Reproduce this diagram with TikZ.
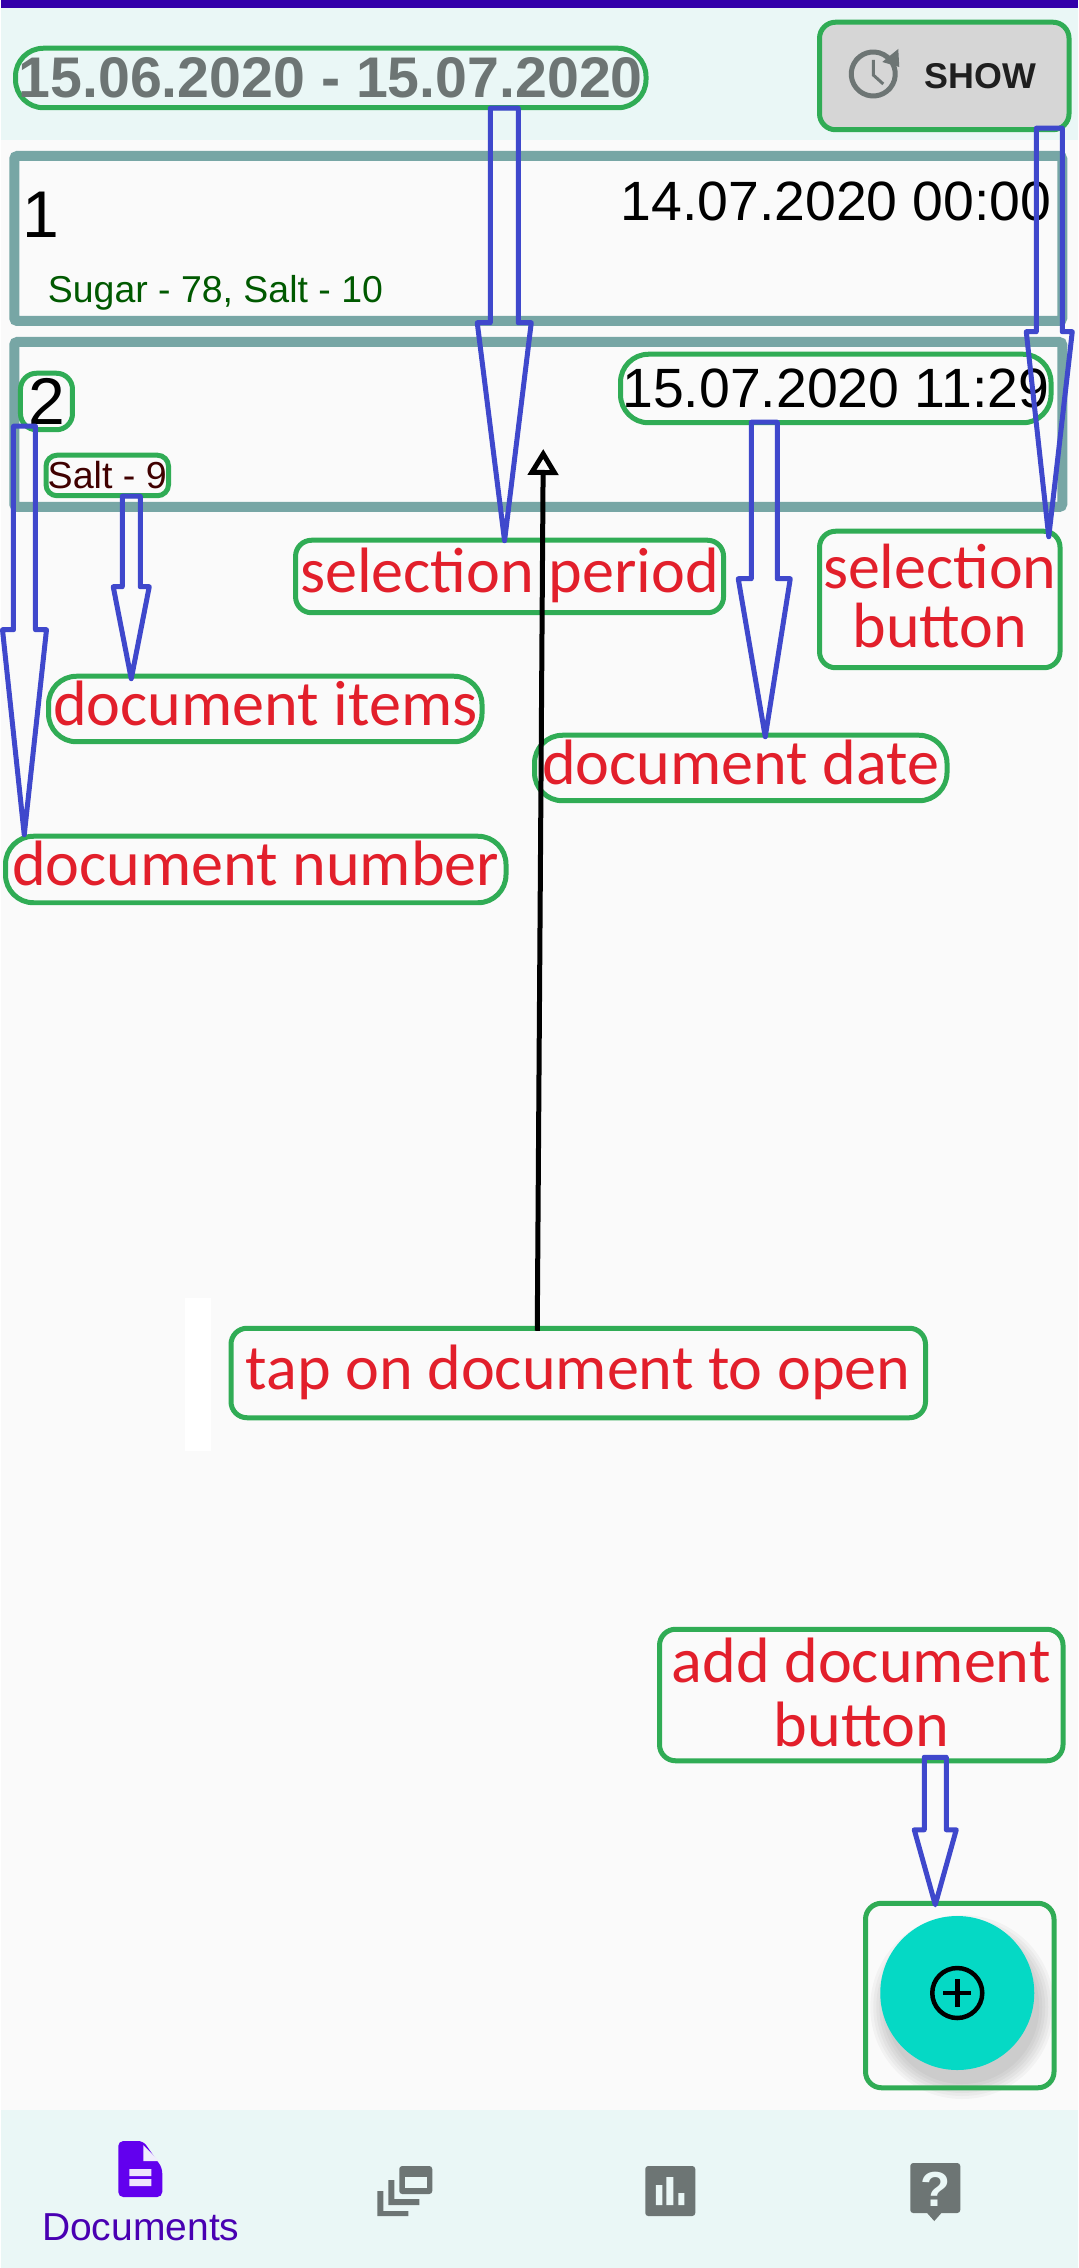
\documentclass[tikz,border=0pt]{standalone}
\usepackage{fontspec}
\setmainfont{Liberation Sans}
\newfontfamily\lblfont{Carlito}
\usepackage{xcolor}
\usetikzlibrary{arrows.meta,positioning,calc}
\definecolor{hdrbg}{HTML}{EAF7F6}
\definecolor{pagebg}{HTML}{FAFAFA}
\definecolor{topbar}{HTML}{3300AA}
\definecolor{cardline}{HTML}{77A6A5}
\definecolor{gboxline}{HTML}{30AC55}
\definecolor{arrline}{HTML}{3F48CC}
\definecolor{lblred}{HTML}{E21F2B}
\definecolor{uigrey}{HTML}{6D7574}
\definecolor{navpurple}{HTML}{6200EE}
\definecolor{fabteal}{HTML}{05D9C5}
% hollow block arrow: from, to, half shaft, half head, head length
\newcommand{\blockarr}[5]{%
  \draw[blockline] ($(#1)+(-#3,0)$) -- ($(#1)+(#3,0)$) -- ($(#1 |- #2)+(#3,-#5)$) -- ($(#1 |- #2)+(#4,-#5)$)
    -- (#2) -- ($(#1 |- #2)+(-#4,-#5)$) -- ($(#1 |- #2)+(-#3,-#5)$) -- cycle;}
\begin{document}
\begin{tikzpicture}[
  x=.1mm,y=-.1mm,
  card/.style={draw=cardline,fill=white!98!black,line width=1mm,rounded corners=.3mm,minimum width=104.8mm,minimum height=16.5mm},
  gbox/.style={draw=gboxline,line width=.5mm,rounded corners=1.6mm,inner sep=0pt,align=center},
  oval/.style={rounded corners=2.8mm},
  lbl/.style={gbox,text=lblred,font=\lblfont\fontsize{18.25pt}{16.8pt}\selectfont,text height=4.5mm,text depth=1.2mm},
  lbltwo/.style={gbox,text=lblred,font=\lblfont\fontsize{18.2pt}{16.8pt}\selectfont},
  datetxt/.style={inner sep=0pt,font=\fontsize{15.75pt}{18pt}\selectfont},
  numtxt/.style={inner sep=0pt,font=\fontsize{18.8pt}{20pt}\selectfont},
  blockline/.style={draw=arrline,line width=.5mm,line join=round},
  tapline/.style={-{Triangle[open,length=2.6mm,width=3mm]},line width=.5mm},
]
% screen background
\fill[pagebg] (0,0) rectangle (1077,2268);
\fill[hdrbg] (0,0) rectangle (1077,140);
\fill[hdrbg] (0,2110) rectangle (1077,2268);
\fill[topbar] (0,0) rectangle (1077,8);
\fill[white] (184,1298) rectangle (210,1451);
% document cards
\node[card] (card1) at (537,238.5) {};
\node[card] (card2) at (537,424.5) {};
\node[numtxt,anchor=base west] (num1) at (21,238) {1};
\node[datetxt,anchor=base east] (date1) at (1051,221) {14.07.2020 00:00};
\node[inner sep=0pt,anchor=base west,text=green!35!black,font=\fontsize{10.65pt}{12pt}\selectfont] (items1) at (46,303) {Sugar - 78, Salt - 10};
% header
\node[gbox,oval,text=uigrey,font=\bfseries\fontsize{16.3pt}{18pt}\selectfont,minimum width=63.05mm,minimum height=5.95mm] (period) at (329.5,78) {15.06.2020 - 15.07.2020};
\node[gbox,fill=black!16,minimum width=24.95mm,minimum height=10.75mm] (show) at (943,76) {};
\node[inner sep=0pt,text=black!88,font=\bfseries\fontsize{10.2pt}{12pt}\selectfont] (showtxt) at (979,76) {SHOW};
\coordinate (clock) at (872,74);
\draw[uigrey,line width=.5mm] (clock) ++(62:2.2mm) arc[start angle=62,end angle=-340,radius=2.2mm];
\fill[uigrey] (897,49) -- (898,67) -- (881,62) -- cycle;
\draw[uigrey,line width=.3mm] (872,60) -- (872,75) -- (882,84);
% second card texts
\node[gbox,numtxt,minimum width=5.2mm,minimum height=5.65mm] (num2) at (45.25,401.5) {2};
\node[gbox,oval,datetxt,minimum width=43.05mm,minimum height=6.85mm] (date2) at (834.5,388.5) {15.07.2020 11:29};
\node[gbox,rounded corners=1.1mm,text=red!25!black,font=\fontsize{10.7pt}{12pt}\selectfont,minimum width=12.25mm,minimum height=4.05mm] (items2) at (106,475.5) {Salt - 9};
% labels
\node[lbl,minimum width=42.8mm,minimum height=7.25mm] (lblperiod) at (508.3,576.5) {selection period};
\node[lbltwo,minimum width=24.05mm,minimum height=13.65mm] (lblshow) at (938.5,599.5) {selection\\button\rule[-.8mm]{0pt}{0pt}};
\node[lbl,oval,minimum width=43.35mm,minimum height=6.55mm] (lblitems) at (264,709) {document items};
\node[lbl,oval,minimum width=41.25mm,minimum height=6.55mm] (lbldate) at (739.5,768) {document date};
\node[lbl,oval,minimum width=50.05mm,minimum height=6.65mm] (lblnum) at (254.5,869.5) {document number};
\node[lbl,minimum width=69.45mm,minimum height=8.95mm] (lbltap) at (577,1373) {tap on document to open};
\node[gbox,text=lblred,font=\lblfont\fontsize{18.25pt}{18.2pt}\selectfont,minimum width=40.35mm,minimum height=13.15mm] (lbladd) at (860,1695) {add document\\button\rule[-.6mm]{0pt}{0pt}};
% add button
\coordinate (fabc) at (956,1993);
\foreach \r in {92,89,86,83,80,77}
  \fill[black,opacity=.03] ($(fabc)+(5,14)$) circle[radius=\r];
\node[gbox,minimum width=18.85mm,minimum height=18.45mm] (fab) at (958.5,1995.5) {};
\fill[fabteal] (fabc) circle[radius=7.7mm];
\draw[line width=.45mm] (fabc) circle[radius=2.5mm];
\draw[line width=.45mm] ($(fabc)+(-14,0)$) -- ($(fabc)+(14,0)$) ($(fabc)+(0,-14)$) -- ($(fabc)+(0,14)$);
% bottom navigation
\fill[navpurple,rounded corners=.5mm] (117,2141) -- (142,2141) -- (161,2168) -- (161,2197) -- (117,2197) -- cycle;
\fill[hdrbg!80!navpurple!30!white] (142,2145) -- (142,2161) -- (158,2161) -- cycle;
\fill[white!90!navpurple] (128,2169) rectangle (150,2176) (128,2179) rectangle (150,2186);
\node[inner sep=0pt,anchor=base,text=navpurple!75!black,font=\fontsize{11.1pt}{13pt}\selectfont] (navdocs) at (139.5,2240) {Documents};
\fill[uigrey,rounded corners=.3mm] (398,2166) rectangle (431,2194);
\fill[hdrbg] (404,2177) rectangle (426,2188);
\fill[uigrey] (387,2180) -- (393,2180) -- (393,2199) -- (418,2199) -- (418,2205) -- (387,2205) -- cycle;
\fill[uigrey] (376,2191) -- (382,2191) -- (382,2211) -- (407,2211) -- (407,2216) -- (376,2216) -- cycle;
\fill[uigrey,rounded corners=.3mm] (644,2166) rectangle (694,2216);
\fill[hdrbg] (654.5,2185) rectangle (661,2205) (665,2177) rectangle (672,2205) (677,2193) rectangle (683,2205);
\fill[uigrey,rounded corners=.3mm] (909,2163) rectangle (959,2213);
\fill[uigrey] (925,2212) -- (933,2221) -- (941,2212) -- cycle;
\node[inner sep=0pt,text=hdrbg,font=\bfseries\fontsize{14pt}{16pt}\selectfont] (navhelp) at (934,2189) {?};
% connectors
\coordinate (pfrom) at ($(period.south)+(173.5,-2)$);
\coordinate (pto) at ($(lblperiod.north)+(-5,3)$);
\coordinate (sfrom) at ($(show.south)+(105,-4)$);
\coordinate (sto) at ($(lblshow.north)+(109,8)$);
\coordinate (nfrom) at ($(num2.south)+(-22,-6)$);
\coordinate (nto) at ($(lblnum.north)+(-231.5,1)$);
\coordinate (ifrom) at ($(items2.south)+(24,-2)$);
\coordinate (ito) at ($(lblitems.north)+(-134,5)$);
\coordinate (dfrom) at ($(date2.south)+(-71.5,-3)$);
\coordinate (dto) at ($(lbldate.north)+(24.5,4)$);
\coordinate (afrom) at ($(lbladd.south)+(74,-6)$);
\coordinate (ato) at ($(fab.north)+(-24.5,4)$);
\blockarr{pfrom}{pto}{14}{27}{218}
\blockarr{sfrom}{sto}{13}{23}{205}
\blockarr{nfrom}{nto}{11}{22}{205}
\blockarr{ifrom}{ito}{9}{18}{92}
\blockarr{dfrom}{dto}{13}{26}{158}
\blockarr{afrom}{ato}{11}{21}{75}
\coordinate (taptip) at (542,449);
\draw[tapline] ($(lbltap.north)+(-41,5)$) -- (taptip);
\useasboundingbox (0,0) rectangle (1077,2268);
\end{tikzpicture}
\end{document}
